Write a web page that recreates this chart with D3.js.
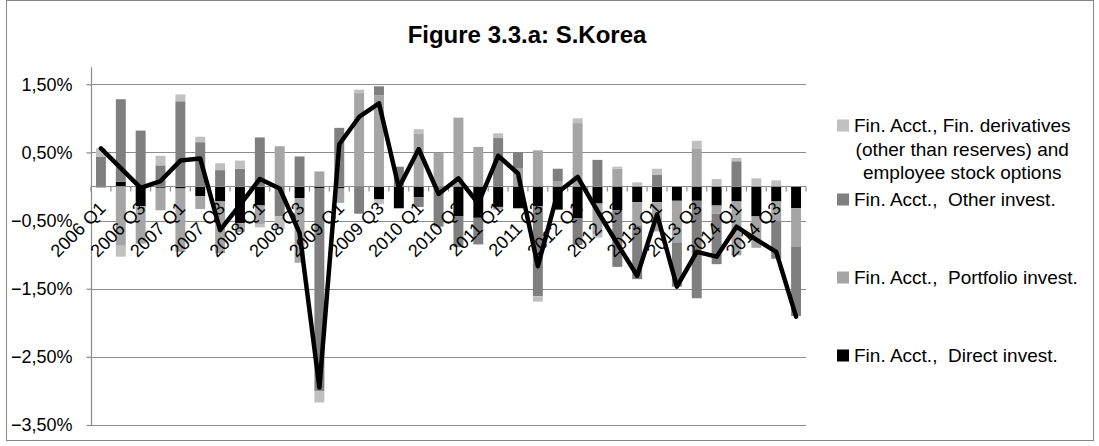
<!DOCTYPE html>
<html><head><meta charset="utf-8">
<script src="https://cdn.jsdelivr.net/npm/d3@7"></script>
<style>body{margin:0;background:#fff}svg{display:block}text{font-family:"Liberation Sans",Arial,sans-serif;fill:#000}</style>
</head><body><svg id="c" width="1099" height="446"></svg>
<script>
const categories = ["2006 Q1","2006 Q2","2006 Q3","2006 Q4","2007 Q1","2007 Q2","2007 Q3","2007 Q4",
"2008 Q1","2008 Q2","2008 Q3","2008 Q4","2009 Q1","2009 Q2","2009 Q3","2009 Q4",
"2010 Q1","2010 Q2","2010 Q3","2010 Q4","2011 Q1","2011 Q2","2011 Q3","2011 Q4",
"2012 Q1","2012 Q2","2012 Q3","2012 Q4","2013 Q1","2013 Q2","2013 Q3","2013 Q4",
"2014 Q1","2014 Q2","2014 Q3","2014 Q4"];
const shownLabels = ["2006 Q1","2006 Q3","2007 Q1","2007 Q3","2008 Q1","2008 Q3","2009 Q1","2009 Q3",
"2010 Q1","2010 Q3","2011 Q1","2011 Q3","2012 Q1","2012 Q3","2013 Q1","2013 Q3","2014 Q1","2014 Q3"];
const directInvest = [0.00,0.07,-0.29,-0.02,-0.03,-0.14,-0.22,-0.54,-0.28,0.00,-0.17,-0.03,-0.03,0.00,-0.19,-0.32,
-0.16,0.00,-0.44,-0.46,-0.30,-0.32,-0.29,-0.34,-0.47,-0.25,-0.35,-0.23,-0.23,-0.21,-0.21,-0.28,-0.22,-0.44,-0.22,-0.32];
const portfolioInvest = [-0.02,-0.87,-0.55,-0.33,-0.93,-0.19,-0.76,-0.13,-0.27,0.59,-0.95,0.22,-0.21,1.37,1.34,0.00,
0.78,0.49,1.01,0.58,-0.04,0.27,0.53,0.08,0.93,-0.45,0.26,-0.34,-0.43,-0.61,0.55,-0.12,-0.79,-0.46,-0.29,-0.56];
const otherInvest = [0.44,1.21,0.82,0.31,1.25,0.65,0.24,0.26,0.72,-0.44,0.44,-2.97,0.86,-0.40,0.13,0.29,
-0.14,-0.59,-0.45,-0.39,0.71,0.23,-1.32,0.18,-0.39,0.39,-0.83,-0.79,0.17,-0.65,-1.43,-0.74,0.37,0.00,-0.55,-1.02];
const derivatives = [0.12,-0.16,0.00,0.14,0.10,0.08,0.10,0.12,-0.05,-0.19,0.00,-0.17,0.00,0.05,-0.07,0.00,
0.06,0.00,0.00,0.00,0.07,0.00,-0.08,0.00,0.07,-0.05,0.03,0.06,0.09,0.00,0.12,0.11,0.05,0.12,0.09,0.00];
const totalAccount = [0.56,0.27,-0.02,0.08,0.38,0.41,-0.64,-0.27,0.11,-0.03,-0.68,-2.95,0.62,1.02,1.22,-0.02,
0.55,-0.11,0.12,-0.25,0.45,0.19,-1.17,-0.09,0.14,-0.36,-0.84,-1.31,-0.41,-1.47,-0.96,-1.03,-0.59,-0.78,-0.96,-1.91];
const yTicks = [-3.5,-2.5,-1.5,-0.5,0.5,1.5];
const seriesColors = ["#000000","#a5a5a5","#7f7f7f","#c0c0c0"];

const seriesData = [directInvest, portfolioInvest, otherInvest, derivatives];
const svg = d3.select("#c");
const L = 91, R = 806, T = 67.2, B = 425;
const x = d3.scaleBand().domain(categories).range([L, R]).paddingInner(0.5).paddingOuter(0.25);
const y = d3.scaleLinear().domain([-3.5, 1.75]).range([B, T]);

svg.append("rect").attr("x",6.5).attr("y",0.5).attr("width",1087).attr("height",440).attr("fill","none").attr("stroke","#868686").attr("stroke-width",1);

svg.append("g").selectAll("line").data(yTicks).join("line")
  .attr("x1",L).attr("x2",R).attr("y1",d=>Math.round(y(d))+0.5).attr("y2",d=>Math.round(y(d))+0.5)
  .attr("stroke","#8c8c8c").attr("stroke-width",1.2);

const yAxis = d3.axisLeft(y).tickValues(yTicks).tickSize(5).tickPadding(14)
  .tickFormat(d=>d3.format(".2f")(d).replace(".",",")+"%");
const gy = svg.append("g").attr("transform",`translate(${L+0.5},0)`).call(yAxis);
gy.select(".domain").remove();
gy.selectAll(".tick line").attr("stroke","#8c8c8c").attr("stroke-width",1.2);
gy.selectAll(".tick text").attr("font-size",18).attr("font-family","Liberation Sans, Arial, sans-serif").attr("fill","#000");
svg.append("line").attr("x1",L+0.5).attr("x2",L+0.5).attr("y1",T).attr("y2",B+0.5).attr("stroke","#8c8c8c").attr("stroke-width",1.2);

const pos = categories.map(()=>0), neg = categories.map(()=>0);
const rects = [];
seriesData.forEach((arr, s) => {
  arr.forEach((v, i) => {
    if (v === 0) return;
    let y0, y1;
    if (v > 0) { y0 = pos[i]; y1 = pos[i] + v; pos[i] = y1; }
    else { y0 = neg[i]; y1 = neg[i] + v; neg[i] = y1; }
    rects.push({cat: categories[i], y0, y1, s});
  });
});
svg.append("g").selectAll("rect").data(rects).join("rect")
  .attr("x", d=>x(d.cat)).attr("width", x.bandwidth())
  .attr("y", d=>y(Math.max(d.y0,d.y1))).attr("height", d=>Math.abs(y(d.y0)-y(d.y1)))
  .attr("fill", d=>seriesColors[d.s]);

const zy = Math.round(y(0))+0.5;
const gx = svg.append("g");
gx.append("line").attr("x1",L).attr("x2",R).attr("y1",zy).attr("y2",zy).attr("stroke","#8c8c8c").attr("stroke-width",1.2);
const step = x.step();
gx.selectAll("line.tk").data(d3.range(categories.length+1)).join("line").attr("class","tk")
  .attr("x1",i=>L+i*step).attr("x2",i=>L+i*step).attr("y1",zy).attr("y2",zy+5)
  .attr("stroke","#8c8c8c").attr("stroke-width",1.2);
gx.selectAll("text").data(shownLabels).join("text")
  .attr("transform", d=>`translate(${x(d)+x.bandwidth()/2+6},${zy+23}) rotate(-45)`)
  .attr("text-anchor","end").attr("font-size",18).text(d=>d);

const line = d3.line().x((d,i)=>x(categories[i])+x.bandwidth()/2).y(d=>y(d));
svg.append("path").datum(totalAccount).attr("d",line).attr("fill","none")
  .attr("stroke","#000").attr("stroke-width",4.5).attr("stroke-linejoin","round").attr("stroke-linecap","round");

svg.append("text").attr("x",527).attr("y",43).attr("text-anchor","middle")
  .attr("font-size",24).attr("font-weight","bold").text("Figure 3.3.a: S.Korea");

const lg = svg.append("g");
const legendItems = [
  {s:3, lines:["Fin. Acct., Fin. derivatives","(other than reserves) and","employee stock options"], y:132},
  {s:2, lines:["Fin. Acct.,  Other invest."], y:206},
  {s:1, lines:["Fin. Acct.,  Portfolio invest."], y:284},
  {s:0, lines:["Fin. Acct.,  Direct invest."], y:362}
];
legendItems.forEach(it=>{
  lg.append("rect").attr("x",837).attr("y",it.y-12.5).attr("width",12).attr("height",12).attr("fill",seriesColors[it.s]);
  const first = lg.append("text").attr("x",854).attr("y",it.y).attr("font-size",19).style("white-space","pre").text(it.lines[0]);
  const cx = 854 + first.node().getComputedTextLength()/2;
  it.lines.slice(1).forEach((t,k)=>{
    lg.append("text").attr("x",cx).attr("text-anchor","middle").attr("y",it.y+(k+1)*23.5).attr("font-size",19).text(t);
  });
});
</script></body></html>
